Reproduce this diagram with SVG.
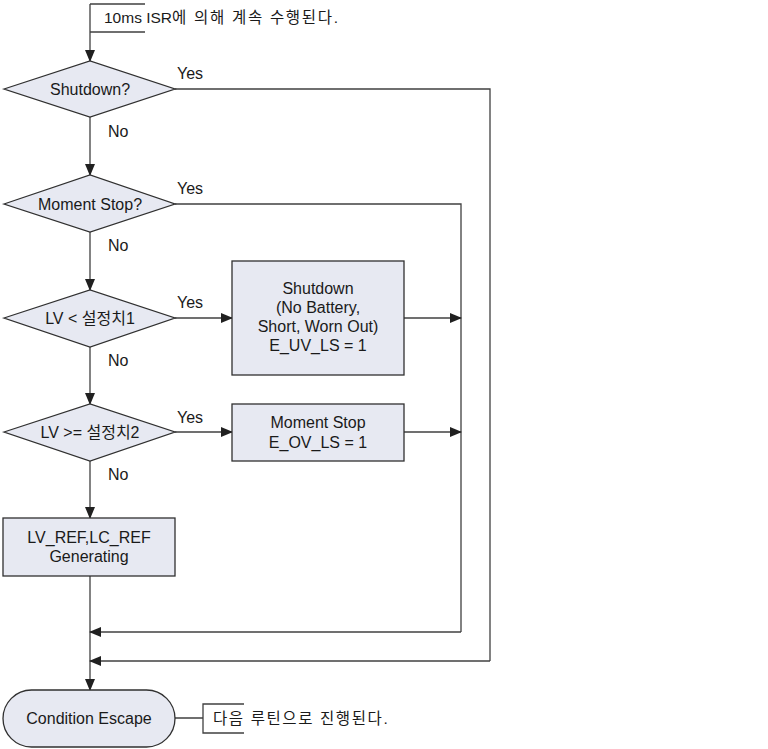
<svg xmlns="http://www.w3.org/2000/svg" width="768" height="749" viewBox="0 0 768 749">
<defs>
<marker id="ah" markerWidth="12" markerHeight="10" refX="11" refY="5" orient="auto" markerUnits="userSpaceOnUse">
<path d="M0,0 L12,5 L0,10 Z" fill="#202020"/>
</marker>
<style>
.n{fill:#e7e9f2;stroke:#303030;stroke-width:1.3}
.t{font-family:"Liberation Sans",Arial,"Noto Sans CJK KR",sans-serif;font-size:16px;fill:#1a1a1a}
.c{text-anchor:middle}
.k{font-family:"Liberation Sans",Arial,"Noto Sans CJK KR",sans-serif;font-size:15.5px;fill:#1a1a1a}
.l{fill:none;stroke:#404040;stroke-width:1.3}
.a{fill:none;stroke:#404040;stroke-width:1.3;marker-end:url(#ah)}
</style>
</defs>
<rect width="768" height="749" fill="#ffffff"/>
<g id="connectors">
<path class="a" d="M90,4 V61"/>
<path class="l" d="M90,4 H145 M90,32 H145"/>
<path class="a" d="M90,117 V175"/>
<path class="a" d="M90,232 V290"/>
<path class="a" d="M90,347 V404"/>
<path class="a" d="M90,461 V518"/>
<path class="a" d="M90,576 V690"/>
<path class="l" d="M175,89 H490 V661"/>
<path class="a" d="M490,661 H90"/>
<path class="l" d="M175,204 H461 V632"/>
<path class="a" d="M461,632 H90"/>
<path class="a" d="M175,318 H232"/>
<path class="a" d="M404,318 H461"/>
<path class="a" d="M175,432 H232"/>
<path class="a" d="M404,432 H461"/>
<path class="l" d="M175,718 H203 M244,704 H203 V733 H244"/>
</g>
<g id="note-top"><text class="k" x="104" y="23">10ms ISR<tspan letter-spacing="1.7">에 의해 계속 수행된다.</tspan></text></g>
<g id="d1"><polygon class="n" points="4,89 90,61 175,89 90,117"/><text class="t c" x="90" y="95">Shutdown?</text></g>
<g id="d2"><polygon class="n" points="4,204 90,175 175,204 90,232"/><text class="t c" x="90" y="210">Moment Stop?</text></g>
<g id="d3"><polygon class="n" points="4,318 90,290 175,318 90,347"/><text class="t c" x="90" y="324">LV &lt; 설정치1</text></g>
<g id="d4"><polygon class="n" points="4,432 90,404 175,432 90,461"/><text class="t c" x="90" y="438">LV &gt;= 설정치2</text></g>
<g id="b1"><rect class="n" x="232" y="261" width="172" height="114"/>
<text class="t c" x="318" y="294">Shutdown</text>
<text class="t c" x="318" y="313">(No Battery,</text>
<text class="t c" x="318" y="332">Short, Worn Out)</text>
<text class="t c" x="318" y="351">E_UV_LS = 1</text></g>
<g id="b2"><rect class="n" x="232" y="404" width="172" height="57"/>
<text class="t c" x="318" y="428">Moment Stop</text>
<text class="t c" x="318" y="448">E_OV_LS = 1</text></g>
<g id="b3"><rect class="n" x="3" y="518" width="172" height="58"/>
<text class="t c" x="89" y="543">LV_REF,LC_REF</text>
<text class="t c" x="89" y="562">Generating</text></g>
<g id="term"><rect class="n" x="3" y="690" width="172" height="57" rx="28.5" ry="28.5"/>
<text class="t c" x="89" y="724">Condition Escape</text></g>
<g id="note-bottom"><text class="k" x="213" y="724" letter-spacing="1.6">다음 루틴으로 진행된다.</text></g>
<g id="labels">
<text class="t" x="177" y="79">Yes</text>
<text class="t" x="108" y="137">No</text>
<text class="t" x="177" y="194">Yes</text>
<text class="t" x="108" y="251">No</text>
<text class="t" x="177" y="308">Yes</text>
<text class="t" x="108" y="366">No</text>
<text class="t" x="177" y="423">Yes</text>
<text class="t" x="108" y="480">No</text>
</g>
</svg>
